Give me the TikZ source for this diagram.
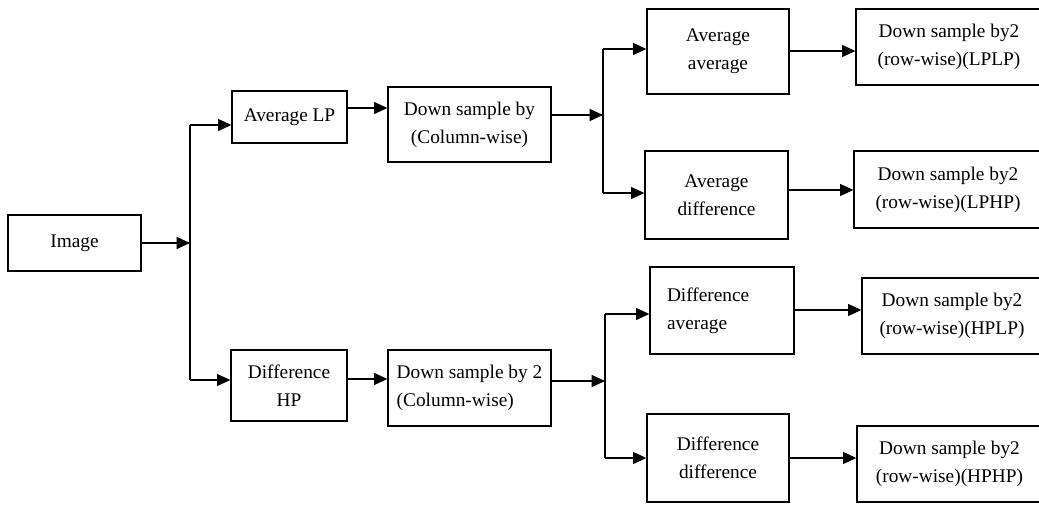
\documentclass[tikz,border=0pt]{standalone}
\usepackage{fontspec}
\setmainfont{Liberation Serif}
\usetikzlibrary{arrows.meta}

\begin{document}
\begin{tikzpicture}[x=0.75pt,y=0.75pt,yscale=-1,xscale=1,
    blk/.style={draw,line width=1pt,inner sep=0pt,align=center,font=\fontsize{14.5}{21}\selectfont},
    sz/.style 2 args={minimum width=#1*0.75pt,minimum height=#2*0.75pt},
    arr/.style={line width=1pt,-{Triangle[length=10pt,width=9pt]}},
    wire/.style={line width=1pt}]
    \useasboundingbox (0,0) rectangle (1039,504);

    % Input
    \node[blk,sz={133}{56}] (img) at (74.5,243) {Image};

    % Column-wise stage
    \node[blk,sz={115}{52}] (avglp) at (289.5,117) {Average LP};
    \node[blk,sz={163}{75}] (dsc1) at (469.5,124.5) {Down sample by\\(Column-wise)};
    \node[blk,sz={116}{71}] (dhp) at (289,385.5) {Difference\\HP};
    \node[blk,sz={163}{76},align=left] (dsc2) at (469.5,388) {Down sample by 2\\(Column-wise)};

    % Row-wise stage
    \node[blk,sz={142}{85}] (avgavg) at (718,51.5) {Average\\average};
    \node[blk,sz={143}{88}] (avgdif) at (716.5,195) {Average\\difference};
    \node[blk,sz={144}{87},align=left,text width=82.5pt] (difavg) at (722,310.5) {Difference\\average};
    \node[blk,sz={142}{88}] (difdif) at (718,458) {Difference\\difference};

    % Sub-bands
    \node[blk,sz={186}{76}] (lplp) at (949,47) {Down sample by2\\(row-wise)(LPLP)};
    \node[blk,sz={188}{77}] (lphp) at (948,189.5) {Down sample by2\\(row-wise)(LPHP)};
    \node[blk,sz={180}{76}] (hplp) at (952,316) {Down sample by2\\(row-wise)(HPLP)};
    \node[blk,sz={185}{76}] (hphp) at (949.5,464) {Down sample by2\\(row-wise)(HPHP)};

    % Branch points
    \coordinate (s1) at (190,243);
    \coordinate (t1) at (190,125);
    \coordinate (b1) at (190,380);
    \coordinate (s2) at (603,115);
    \coordinate (t2) at (603,49);
    \coordinate (b2) at (603,193);
    \coordinate (s3) at (605,381);
    \coordinate (t3) at (605,314);
    \coordinate (b3) at (605,458);

    % Connectors
    \draw[arr] (img.east) -- (s1);
    \draw[wire] (t1) -- (b1);
    \draw[arr] (t1) -- (t1 -| avglp.west);
    \draw[arr] (b1) -- (b1 -| dhp.west);
    \draw[arr] ([yshift=-6.75pt]avglp.east) -- ([yshift=-6.75pt]avglp.east -| dsc1.west);
    \draw[arr] ([yshift=-4.9pt]dhp.east) -- ([yshift=-4.9pt]dhp.east -| dsc2.west);

    \draw[arr] (dsc1.east |- s2) -- (s2);
    \draw[wire] (t2) -- (b2);
    \draw[arr] (t2) -- (t2 -| avgavg.west);
    \draw[arr] (b2) -- (b2 -| avgdif.west);

    \draw[arr] (dsc2.east |- s3) -- (s3);
    \draw[wire] (t3) -- (b3);
    \draw[arr] (t3) -- (t3 -| difavg.west);
    \draw[arr] (b3) -- (b3 -| difdif.west);

    \draw[arr] ([yshift=-0.375pt]avgavg.east) -- ([yshift=-0.375pt]avgavg.east -| lplp.west);
    \draw[arr] ([yshift=-3.75pt]avgdif.east) -- ([yshift=-3.75pt]avgdif.east -| lphp.west);
    \draw[arr] ([yshift=-0.375pt]difavg.east) -- ([yshift=-0.375pt]difavg.east -| hplp.west);
    \draw[arr] (difdif.east) -- (difdif.east -| hphp.west);
\end{tikzpicture}
\end{document}
